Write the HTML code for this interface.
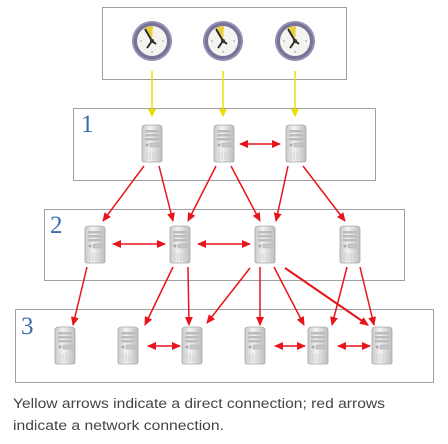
<!DOCTYPE html>
<html><head><meta charset="utf-8"><style>
html,body{margin:0;padding:0;background:#fff;width:448px;height:444px;overflow:hidden}
</style></head><body>
<svg width="448" height="444" viewBox="0 0 448 444" xmlns="http://www.w3.org/2000/svg">
<defs>
<marker id="ry" markerWidth="8" markerHeight="8" refX="7" refY="4" orient="auto" markerUnits="userSpaceOnUse"><path d="M0,0 L8,4 L0,8 Z" fill="#e8e000"/></marker>
<marker id="rr" markerWidth="9" markerHeight="8" refX="8" refY="4" orient="auto" markerUnits="userSpaceOnUse"><path d="M0,0 L9,4 L0,8 Z" fill="#e8141c"/></marker>
<marker id="rs" markerWidth="9" markerHeight="8" refX="1" refY="4" orient="auto" markerUnits="userSpaceOnUse"><path d="M9,0 L0,4 L9,8 Z" fill="#e8141c"/></marker>
<linearGradient id="sg" x1="0" x2="1"><stop offset="0" stop-color="#c8c8c8"/><stop offset="0.4" stop-color="#f2f2f2"/><stop offset="1" stop-color="#bdbdbd"/></linearGradient>
<g id="srv">
<path d="M-10,-15 Q-10,-18 -6,-18 L6,-18 Q10,-18 10,-15 L10,17 Q10,19 8,19 L-8,19 Q-10,19 -10,17 Z" fill="url(#sg)" stroke="#a8a8a8" stroke-width="0.8"/>
<rect x="-7" y="-13" width="14" height="2.5" fill="#bcbcbc"/>
<rect x="-7" y="-9" width="14" height="2.5" fill="#bcbcbc"/>
<rect x="-7" y="-5" width="14" height="2.5" fill="#bcbcbc"/>
<circle cx="-5" cy="2" r="1.5" fill="#aaa"/>
<rect x="-2" y="0" width="9" height="4" fill="#c6c6c6" stroke="#aaa" stroke-width="0.5"/>
<path d="M-5,9 V17 M-2,9 V17 M1,9 V17 M4,9 V17" stroke="#d0d0d0" stroke-width="1"/>
</g>
<g id="clk">
<circle r="20" fill="#7a7198"/>
<circle r="19" fill="none" stroke="#9a92b8" stroke-width="1.5"/>
<circle r="15" fill="#f4f3ef"/>
<path d="M0,0 L-7,-13 A15,15 0 0 1 1,-15 Z" fill="#e6d040"/>
<path d="M-7,-12 L0,0 L-5,7 M0,0 L4,3" stroke="#222" stroke-width="1.8" fill="none"/>
<circle r="2" fill="#333"/>
<circle cx="11" cy="0" r="1" fill="#bbb"/><circle cx="0" cy="11" r="1" fill="#bbb"/><circle cx="-11" cy="0" r="1" fill="#bbb"/>
</g>
</defs>
<g fill="none" stroke="#a0a0a0" stroke-width="1">
<rect x="102.5" y="7.5" width="244" height="72"/>
<rect x="73.5" y="108.5" width="302" height="72"/>
<rect x="44.5" y="209.5" width="360" height="71"/>
<rect x="15.5" y="309.5" width="418" height="73"/>
</g>
<g font-family="Liberation Serif, serif" font-size="25" fill="#3a6db0">
<text x="81" y="132">1</text><text x="50" y="233">2</text><text x="21" y="334">3</text>
</g>
<use href="#clk" x="152" y="41"/><use href="#clk" x="223" y="41"/><use href="#clk" x="295" y="41"/>
<g stroke="#e8e000" stroke-width="1.5" marker-end="url(#ry)">
<line x1="152" y1="71" x2="152" y2="116"/><line x1="223" y1="71" x2="223" y2="116"/><line x1="295" y1="71" x2="295" y2="116"/>
</g>
<use href="#srv" x="152" y="143"/><use href="#srv" x="224" y="143"/><use href="#srv" x="296" y="143"/>
<use href="#srv" x="95" y="244"/><use href="#srv" x="180" y="244"/><use href="#srv" x="265" y="244"/><use href="#srv" x="350" y="244"/>
<use href="#srv" x="65" y="345"/><use href="#srv" x="128" y="345"/><use href="#srv" x="192" y="345"/><use href="#srv" x="255" y="345"/><use href="#srv" x="318" y="345"/><use href="#srv" x="382" y="345"/>
<g stroke="#e8141c" stroke-width="1.5" marker-end="url(#rr)">
<line x1="240" y1="144" x2="280" y2="144" marker-start="url(#rs)"/>
<line x1="113" y1="244" x2="165" y2="244" marker-start="url(#rs)"/>
<line x1="198" y1="244" x2="250" y2="244" marker-start="url(#rs)"/>
<line x1="148" y1="346" x2="180" y2="346" marker-start="url(#rs)"/>
<line x1="275" y1="346" x2="305" y2="346" marker-start="url(#rs)"/>
<line x1="338" y1="346" x2="370" y2="346" marker-start="url(#rs)"/>
<line x1="144" y1="166" x2="103" y2="221"/>
<line x1="159" y1="166" x2="173" y2="221"/>
<line x1="216" y1="166" x2="188" y2="221"/>
<line x1="231" y1="166" x2="260" y2="221"/>
<line x1="288" y1="166" x2="276" y2="221"/>
<line x1="303" y1="166" x2="345" y2="221"/>
<line x1="87" y1="267" x2="73" y2="325"/>
<line x1="173" y1="267" x2="145" y2="325"/>
<line x1="188" y1="267" x2="189" y2="325"/>
<line x1="250" y1="268" x2="207" y2="323"/>
<line x1="260" y1="267" x2="260" y2="325"/>
<line x1="274" y1="267" x2="304" y2="325"/>
<line x1="285" y1="268" x2="368" y2="325" stroke-width="2"/>
<line x1="347" y1="267" x2="332" y2="325"/>
<line x1="360" y1="267" x2="374" y2="325"/>
</g>
<g font-family="Liberation Sans, sans-serif" font-size="13.5" fill="#444">
<text x="13" y="408" textLength="372" lengthAdjust="spacingAndGlyphs">Yellow arrows indicate a direct connection; red arrows</text>
<text x="13" y="430" textLength="211" lengthAdjust="spacingAndGlyphs">indicate a network connection.</text>
</g>
</svg>
</body></html>
